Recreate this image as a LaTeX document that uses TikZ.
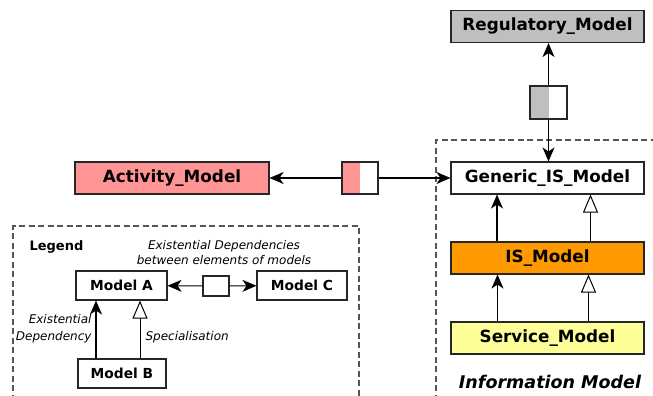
\documentclass[tikz,border=0pt]{standalone}
\usepackage{fontspec}
\setmainfont{DejaVu Sans}
\usetikzlibrary{arrows.meta}
\definecolor{regGray}{HTML}{BFBFBF}
\definecolor{actPink}{HTML}{FF9494}
\definecolor{isOrange}{HTML}{FF9900}
\definecolor{srvYellow}{HTML}{FFFF99}
\definecolor{dashGray}{HTML}{555555}

\begin{document}
\begin{tikzpicture}[x=1pt, y=-1pt,
	model/.style={draw=black!85, line width=1.1pt, inner sep=0pt, minimum width=193pt,
		minimum height=32pt, font=\fontsize{16.8}{20}\selectfont\bfseries},
	legmodel/.style={model, minimum width=90pt, minimum height=29pt,
		font=\fontsize{13.8}{16}\selectfont\bfseries},
	relbox/.style={draw=black!85, line width=1.1pt, inner sep=0pt, fill=white,
		minimum width=37pt, minimum height=32pt,
		path picture={\fill[#1] (path picture bounding box.south west)
			rectangle (path picture bounding box.north);}},
	dep/.style={-{Stealth[length=14pt,width=12pt,inset=4pt]}, line width=1.1pt},
	spec/.style={-{Triangle[open,length=18pt,width=15pt,fill=white]}, line width=1pt},
	dashbox/.style={dash pattern=on 6pt off 3.5pt, draw=dashGray, line width=1.1pt}
	]
	\useasboundingbox (0,0) rectangle (653,396);

	% frames
	\draw [dashbox] (436,410) -- (436,140) -- (670,140);
	\draw [dashbox] (13,410) -- (13,226) -- (359,226) -- (359,410);

	% models
	\node [model, fill=regGray] (reg) at (547.5,26.5) {Regulatory\_Model};
	\node [model, fill=white] (generic) at (547.5,178) {Generic\_IS\_Model};
	\node [model, fill=isOrange] (ismodel) at (547.5,258) {IS\_Model};
	\node [model, fill=srvYellow] (service) at (547.5,338) {Service\_Model};
	\node [model, fill=actPink, minimum width=194pt] (activity) at (172,178) {Activity\_Model};

	\node [relbox=regGray, minimum height=33pt] (relReg) at (548.5,102.5) {};
	\node [relbox=actPink, minimum width=36pt] (relAct) at (360,178) {};

	\node [font=\fontsize{17.5}{20}\selectfont\bfseries\itshape] (infotitle) at (550,382) {Information Model};

	\draw [dep] (relReg) -- (relReg |- reg.south);
	\draw [dep] (relReg) -- (relReg |- generic.north);
	\draw [dep] (relAct) -- (activity);
	\draw [dep] (relAct) -- (generic);

	\draw [dep] ([xshift=-50.5pt]ismodel.north) -- ([xshift=-50.5pt]generic.south);
	\draw [spec] ([xshift=43pt]ismodel.north) -- ([xshift=43pt]generic.south);
	\draw [dep] ([xshift=-50pt]service.north) -- ([xshift=-50pt]ismodel.south);
	\draw [spec] ([xshift=41pt]service.north) -- ([xshift=41pt]ismodel.south);

	% legend
	\node [anchor=west, font=\fontsize{13}{16}\selectfont\bfseries] (legtitle) at (26,247) {Legend};
	\node [align=center, font=\fontsize{12}{15}\selectfont\itshape] (legdeptext) at (224,252.5)
		{Existential Dependencies\\between elements of models};

	\node [legmodel, minimum width=91pt] (modelA) at (121.5,285.5) {Model A};
	\node [legmodel] (modelC) at (302,285.5) {Model C};
	\node [legmodel, minimum width=88pt] (modelB) at (122,373.5) {Model B};
	\node [relbox=white, minimum width=26pt, minimum height=20pt] (relLeg) at (216,286) {};

	\draw [dep] (relLeg) -- (modelA);
	\draw [dep] (relLeg) -- (modelC);
	\draw [dep] ([xshift=-26pt]modelB.north) -- ([xshift=-26pt]modelB.north |- modelA.south);
	\draw [spec] ([xshift=18pt]modelB.north) -- ([xshift=18pt]modelB.north |- modelA.south);

	\node [anchor=east, align=right, font=\fontsize{12}{17}\selectfont\itshape] (legdeplabel) at (95,328.5)
		{Existential\\Dependency};
	\node [anchor=west, font=\fontsize{12}{17}\selectfont\itshape] (legspeclabel) at (142,337) {Specialisation};
\end{tikzpicture}
\end{document}
